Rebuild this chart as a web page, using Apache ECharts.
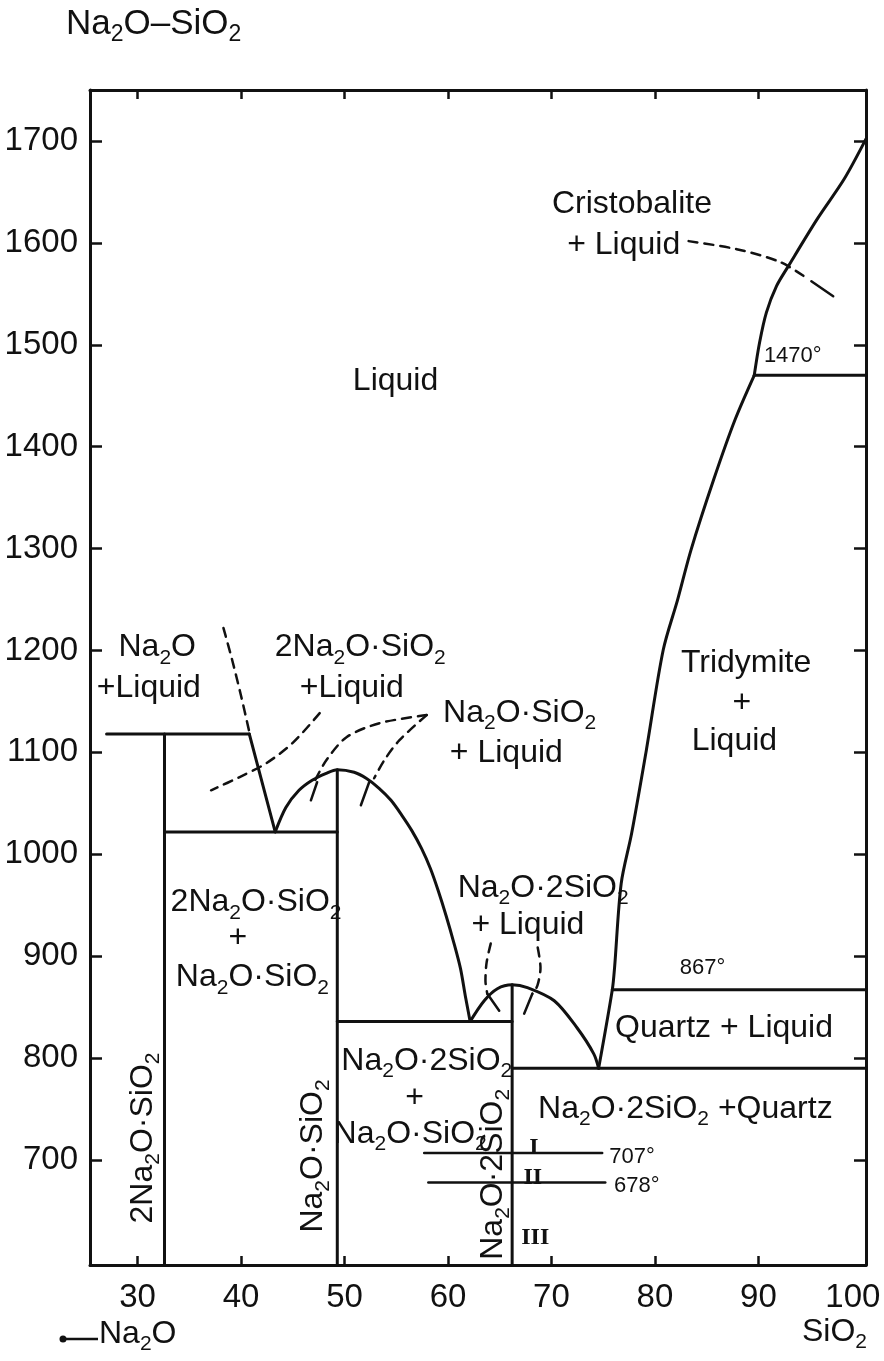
<!DOCTYPE html>
<html>
<head>
<meta charset="utf-8">
<script src="https://cdn.jsdelivr.net/npm/echarts@6/dist/echarts.min.js"></script>
<style>
  html, body { margin: 0; padding: 0; background: #fff; }
  #chart { width: 884px; height: 1361px; }
</style>
</head>
<body>
<div id="chart"></div>
<script>
// Na2O–SiO2 phase diagram: composition (mol % SiO2) vs temperature (°C)

const xTicks = [30, 40, 50, 60, 70, 80, 90];
const xTickLabels = [30, 40, 50, 60, 70, 80, 90, 100];
const yTicks = [700, 800, 900, 1000, 1100, 1200, 1300, 1400, 1500, 1600, 1700];

// Solid phase boundaries
const na2oTie1118 = [[27.0, 1118], [40.8, 1118]];
const line2NS = [[32.6, 1118], [32.6, 597]];
const liquidus2NS = [[40.8, 1118], [43.3, 1022]];
const eutectic1022 = [[32.6, 1022], [49.3, 1022]];
const liquidusNS = [
  [43.3, 1022], [44.33, 1046], [45.6, 1062.8], [46.87, 1072.7], [48.23, 1079.5],
  [49.3, 1083], [50.93, 1080.5], [52.09, 1074.6], [53.34, 1064.8], [54.49, 1053],
  [55.54, 1038.3], [56.49, 1023.5], [57.44, 1005.8], [58.3, 986.1], [59.05, 964.5],
  [59.81, 940], [60.56, 913.4], [61.21, 887.8], [61.67, 861.3], [62.14, 836]
];
const lineNS = [[49.3, 1083], [49.3, 597]];
const eutectic836 = [[49.3, 836], [66.2, 836]];
const liquidusNS2 = [
  [62.14, 836], [63.5, 856.3], [64.77, 868.1], [66.2, 872], [67.67, 869.2],
  [70.27, 856.3], [72.47, 829.8], [74.09, 804.2], [74.56, 790]
];
const lineNS2 = [[66.2, 872], [66.2, 597]];
const eutectic790 = [[66.2, 790], [100.4, 790]];
const liquidusSilica = [
  [74.56, 790], [75.88, 867], [76.1, 888.8], [76.74, 971.4], [77.75, 1020.6],
  [79.17, 1102.2], [80.8, 1200.5], [82.19, 1249.7], [83.49, 1298.8], [85.68, 1367.7],
  [87.75, 1426.6], [89.6, 1470]
];
const liquidusCristobalite = [
  [89.6, 1470], [90.11, 1502], [90.77, 1531.6], [91.76, 1557.7], [92.91, 1577.4],
  [95.68, 1623.3], [98.29, 1662.6], [100.4, 1702]
];
const tie867 = [[75.88, 867], [100.4, 867]];
const tie1470 = [[89.6, 1470], [100.4, 1470]];
const inversion707 = [[57.7, 707], [74.9, 707]];
const inversion678 = [[58.1, 678], [75.2, 678]];

// Dashed leader lines from labels, with short solid tips
const leaderA = [[38.3, 1222], [39.14, 1190.7], [39.98, 1156.3], [40.8, 1120]];
const leaderB = [[47.6, 1138.5], [44.97, 1109.1], [42.44, 1089.4], [39.82, 1075.6], [37.1, 1062.8]];
const leaderC = [[57.94, 1136.6], [53.39, 1128.7], [50.19, 1114.9], [48.24, 1092.3], [47.16, 1072.7]];
const leaderD = [[57.94, 1136.6], [55.31, 1112], [53.84, 1092.3], [52.86, 1074.6]];
const leaderE = [[64.13, 912.4], [63.73, 893.7], [63.62, 876], [63.8, 863.2]];
const leaderF = [[68.67, 908.5], [68.94, 888.8], [68.64, 871.1], [68.15, 863.2]];
const leaderG = [[83.26, 1601.7], [87.9, 1593.8], [92.14, 1581], [94.83, 1564.3]];
const tipC = [[47.35, 1070.7], [46.75, 1053]];
const tipD = [[52.38, 1070.7], [51.58, 1048.1]];
const tipE = [[63.8, 863.2], [64.95, 846.5]];
const tipF = [[68.15, 863.2], [67.36, 843.6]];
const tipG = [[95.12, 1562.3], [97.23, 1547.6]];

// Field labels: text, x, T
const fieldLabels = [
  ['Liquid', 54.93, 1464],
  ['Cristobalite', 77.78, 1638],
  ['+ Liquid', 76.98, 1598],
  ['Tridymite', 88.81, 1188],
  ['+', 88.39, 1148],
  ['Liquid', 87.68, 1111],
  ['Na_2O', 31.9, 1203],
  ['+Liquid', 31.09, 1163],
  ['2Na_2O·SiO_2', 51.52, 1203],
  ['+Liquid', 50.71, 1163],
  ['Na_2O·SiO_2', 66.93, 1138.5],
  ['+ Liquid', 65.64, 1099],
  ['Na_2O·2SiO_2', 69.2, 967],
  ['+ Liquid', 67.72, 930],
  ['2Na_2O·SiO_2', 41.45, 953],
  ['+', 39.68, 918],
  ['Na_2O·SiO_2', 41.1, 879],
  ['Na_2O·2SiO_2', 57.95, 797],
  ['+', 56.76, 761],
  ['Na_2O·SiO_2', 56.34, 725.6],
  ['Quartz + Liquid', 86.68, 829],
  ['Na_2O·2SiO_2 +Quartz', 82.94, 750]
];
// Compound lines, labelled vertically
const compoundLabels = [
  ['2Na_2O·SiO_2', 30.53, 721.6],
  ['Na_2O·SiO_2', 46.95, 704],
  ['Na_2O·2SiO_2', 64.33, 686]
];
const tempLabels = [
  ['1470°', 93.32, 1488.6],
  ['867°', 84.6, 888.8],
  ['707°', 77.78, 703],
  ['678°', 78.24, 674.4]
];
const formLabels = [['I', 68.31, 711.8], ['II', 68.19, 682.3], ['III', 68.43, 623.3]];

const FONT = 'Liberation Sans';
const INK = '#111';

function chem(t) {
  return t.split(/_(\d)/).map((p, i) => i % 2 ? '{s|' + p + '}' : (p ? '{n|' + p + '}' : '')).join('');
}

const rich = {
  n: { fontFamily: FONT, fontSize: 32, lineHeight: 42, color: INK },
  s: { fontFamily: FONT, fontSize: 21, lineHeight: 20, verticalAlign: 'bottom', color: INK },
  t: { fontFamily: FONT, fontSize: 22, color: INK },
  r: { fontFamily: 'Liberation Serif', fontWeight: 'bold', fontSize: 24, color: INK }
};

function lineSeries(data, opts) {
  opts = opts || {};
  return {
    type: 'line', data: data, symbol: 'none', silent: true, clip: false,
    smooth: opts.smooth || false,
    lineStyle: { color: INK, width: opts.width || 3, type: opts.dash ? [9, 7] : 'solid', cap: 'round', join: 'round' },
    z: 3
  };
}

function labelItems(list, fmt, rotate) {
  return list.map(function (r) {
    return { value: [r[1], r[2]], label: { formatter: fmt(r[0]), rotate: rotate || 0 } };
  });
}

function labelSeries(items) {
  return {
    type: 'scatter', data: items, symbolSize: 1, silent: true,
    itemStyle: { color: 'rgba(0,0,0,0)' },
    label: {
      show: true, position: 'inside', color: INK, opacity: 1,
      textBorderWidth: 0, textBorderColor: 'transparent', rich: rich
    },
    z: 5
  };
}

const series = [
  lineSeries(na2oTie1118),
  lineSeries(line2NS),
  lineSeries(liquidus2NS),
  lineSeries(eutectic1022),
  lineSeries(liquidusNS, { smooth: 0.3 }),
  lineSeries(lineNS),
  lineSeries(eutectic836),
  lineSeries(liquidusNS2, { smooth: 0.3 }),
  lineSeries(lineNS2),
  lineSeries(eutectic790),
  lineSeries(liquidusSilica, { smooth: 0.3 }),
  lineSeries(liquidusCristobalite, { smooth: 0.3 }),
  lineSeries(tie867),
  lineSeries(tie1470),
  lineSeries(inversion707, { width: 2.5 }),
  lineSeries(inversion678, { width: 2.5 }),
  lineSeries(leaderA, { dash: true, width: 2.5, smooth: 0.3 }),
  lineSeries(leaderB, { dash: true, width: 2.5, smooth: 0.3 }),
  lineSeries(leaderC, { dash: true, width: 2.5, smooth: 0.3 }),
  lineSeries(leaderD, { dash: true, width: 2.5, smooth: 0.3 }),
  lineSeries(leaderE, { dash: true, width: 2.5, smooth: 0.3 }),
  lineSeries(leaderF, { dash: true, width: 2.5, smooth: 0.3 }),
  lineSeries(leaderG, { dash: true, width: 2.5, smooth: 0.3 }),
  lineSeries(tipC, { width: 2.5 }),
  lineSeries(tipD, { width: 2.5 }),
  lineSeries(tipE, { width: 2.5 }),
  lineSeries(tipF, { width: 2.5 }),
  lineSeries(tipG, { width: 2.5 }),
  labelSeries(labelItems(fieldLabels, chem)),
  labelSeries(labelItems(compoundLabels, chem, 90)),
  labelSeries(labelItems(tempLabels, function (t) { return '{t|' + t + '}'; })),
  labelSeries(labelItems(formLabels, function (t) { return '{r|' + t + '}'; }))
];

const axisLineStyle = { color: INK, width: 3 };
const tickStyle = { color: INK, width: 2.5 };
const plain = function (v) { return String(v); };
// the last composition label sits tucked against the right border
const xLabelText = function (v) { return v === 100 ? '{e|' + v + '}' : String(v); };

const option = {
  animation: false,
  backgroundColor: '#fff',
  grid: { left: 90, right: 18, top: 90, bottom: 96, containLabel: false, outerBoundsMode: 'none' },
  xAxis: [
    {
      type: 'value', min: 25.4, max: 100.4, position: 'bottom',
      axisLine: { show: true, onZero: false, lineStyle: axisLineStyle },
      axisTick: { show: true, inside: true, length: 9, customValues: xTicks, lineStyle: tickStyle },
      axisLabel: {
        show: true, customValues: xTickLabels, formatter: xLabelText, margin: 16,
        fontFamily: FONT, fontSize: 33, color: INK,
        rich: { e: { fontFamily: FONT, fontSize: 33, color: INK, padding: [0, 18, 0, 0] } }
      },
      splitLine: { show: false }
    },
    {
      type: 'value', min: 25.4, max: 100.4, position: 'top',
      axisLine: { show: true, onZero: false, lineStyle: axisLineStyle },
      axisTick: { show: true, inside: true, length: 9, customValues: xTicks, lineStyle: tickStyle },
      axisLabel: { show: false },
      splitLine: { show: false }
    }
  ],
  yAxis: [
    {
      type: 'value', min: 597, max: 1750, position: 'left',
      axisLine: { show: true, onZero: false, lineStyle: axisLineStyle },
      axisTick: { show: true, inside: true, length: 12, customValues: yTicks, lineStyle: tickStyle },
      axisLabel: { show: true, customValues: yTicks, formatter: plain, margin: 12, fontFamily: FONT, fontSize: 33, color: INK },
      splitLine: { show: false }
    },
    {
      type: 'value', min: 597, max: 1750, position: 'right',
      axisLine: { show: true, onZero: false, lineStyle: axisLineStyle },
      axisTick: { show: true, inside: true, length: 12, customValues: yTicks, lineStyle: tickStyle },
      axisLabel: { show: false },
      splitLine: { show: false }
    }
  ],
  graphic: [
    {
      type: 'text', left: 66, top: 7, silent: true,
      style: {
        text: '{n|Na}{s|2}{n|O–SiO}{s|2}',
        rich: {
          n: { fontFamily: FONT, fontSize: 35, lineHeight: 44, fill: INK },
          s: { fontFamily: FONT, fontSize: 23, lineHeight: 20, verticalAlign: 'bottom', fill: INK }
        }
      }
    },
    {
      type: 'line', silent: true,
      shape: { x1: 63, y1: 1339, x2: 98, y2: 1339 },
      style: { stroke: INK, lineWidth: 2.5 }
    },
    {
      type: 'circle', silent: true,
      shape: { cx: 63, cy: 1339, r: 3.5 },
      style: { fill: INK }
    },
    {
      type: 'text', left: 99, top: 1318, silent: true,
      style: {
        text: '{n|Na}{s|2}{n|O}',
        rich: {
          n: { fontFamily: FONT, fontSize: 32, lineHeight: 42, fill: INK },
          s: { fontFamily: FONT, fontSize: 21, lineHeight: 20, verticalAlign: 'bottom', fill: INK }
        }
      }
    },
    {
      type: 'text', left: 802, top: 1316, silent: true,
      style: {
        text: '{n|SiO}{s|2}',
        rich: {
          n: { fontFamily: FONT, fontSize: 32, lineHeight: 42, fill: INK },
          s: { fontFamily: FONT, fontSize: 21, lineHeight: 20, verticalAlign: 'bottom', fill: INK }
        }
      }
    }
  ],
  series: series
};

const chart = echarts.init(document.getElementById('chart'), null, { renderer: 'canvas' });
chart.setOption(option);
</script>
</body>
</html>
